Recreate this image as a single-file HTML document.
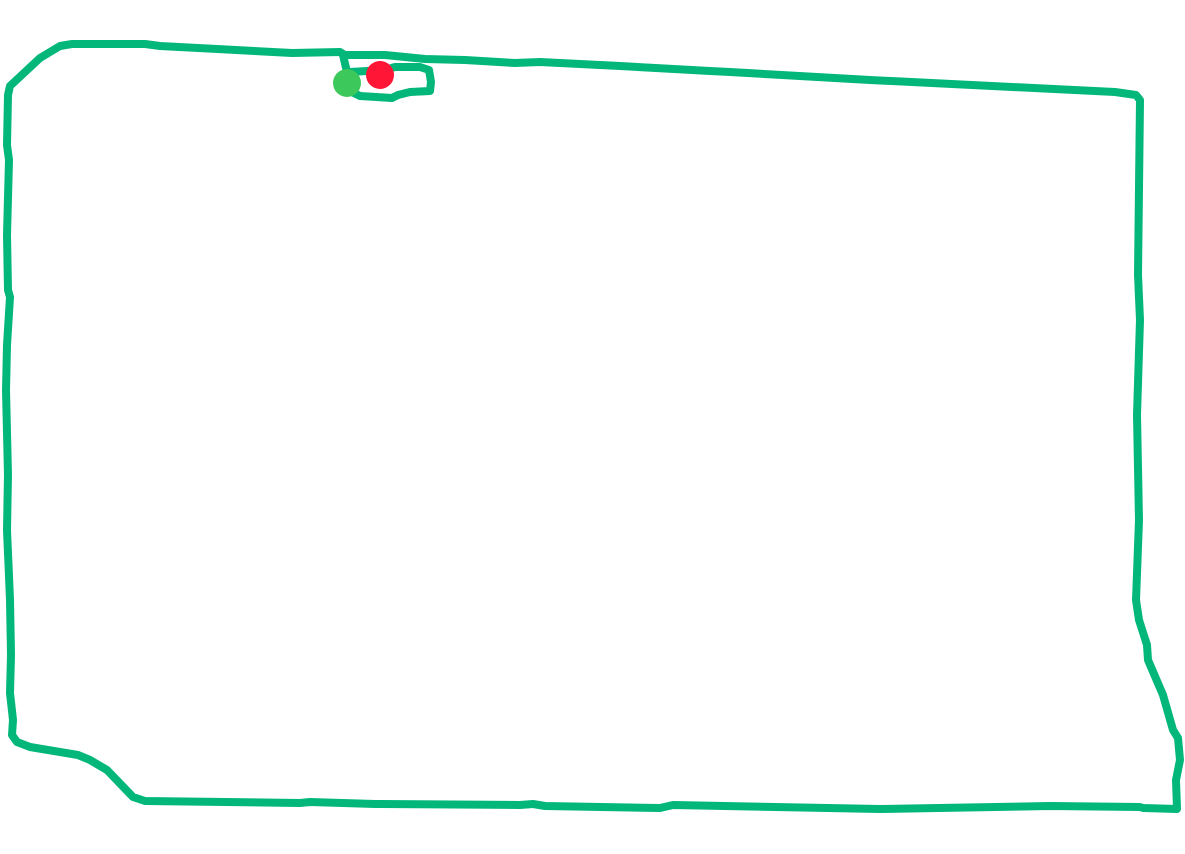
<!DOCTYPE html>
<html><head><meta charset="utf-8"><style>html,body{margin:0;padding:0;background:#fff;width:1185px;height:854px;overflow:hidden}</style></head>
<body>
<svg width="1185" height="854" viewBox="0 0 1185 854" xmlns="http://www.w3.org/2000/svg">
<g fill="none" stroke="#03b77b" stroke-width="8" stroke-linejoin="round" stroke-linecap="round">
<polyline points="340,52 292,53 160,46 145,44 72,44 60,46 40,58 10,86 8,95 7,145 9,160 7,235 8,290 10,297 7,345 6,390 8,475 7,530 10,600 11,655 10,693 13,720 12,735 17,742 30,747 78,755 90,760 107,770 133,797 145,801 300,803 310,802 375,804 520,805 533,804 545,806 660,808 673,805 880,809 1050,806 1140,807 1143,808 1177,809 1176,780 1180,760 1178,738 1173,730 1163,695 1148,660 1147,645 1139,620 1136,600 1139,520 1137,415 1140,320 1138,275 1140,100 1136,95 1115,92 870,80 730,72 710,71 620,66 540,62 515,63 465,60 425,59 385,55 345,55 340,52"/>
<polyline points="343,55 347,72 352,92 360,96 392,98 398,95 410,92 430,91 431,82 429,70 420,67 395,67 385,70 350,72 347,83"/>
</g>
<circle cx="347" cy="83" r="14" fill="#3cc85a"/>
<circle cx="380" cy="75" r="14" fill="#ff1535"/>
</svg>
</body></html>
